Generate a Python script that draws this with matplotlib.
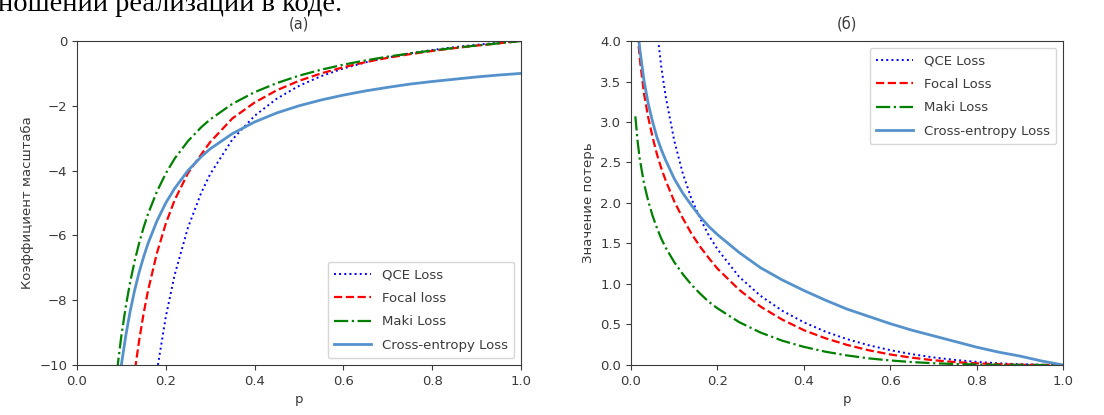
import matplotlib
matplotlib.use("Agg")
import matplotlib.pyplot as plt

# (a) scale coefficient vs p
p_a = [0.09, 0.10, 0.11, 0.12, 0.13, 0.14, 0.15, 0.16, 0.18, 0.20, 0.22, 0.25, 0.28, 0.30,
       0.35, 0.40, 0.45, 0.50, 0.55, 0.60, 0.65, 0.70, 0.75, 0.80, 0.85, 0.90, 0.95, 1.00]
qce_a = [-31.4, -26.6, -22.8, -19.9, -17.5, -15.5, -13.8, -12.4, -10.2, -8.52, -7.22, -5.76, -4.68, -4.11,
         -3.04, -2.31, -1.78, -1.385, -1.084, -0.848, -0.659, -0.507, -0.382, -0.278, -0.190, -0.117, -0.054, 0.0]
focal_a = [-16.5, -14.4, -12.7, -11.35, -10.21, -9.25, -8.42, -7.71, -6.55, -5.64, -4.91, -4.08, -3.50, -3.12,
           -2.39, -1.90, -1.52, -1.23, -1.00, -0.81, -0.652, -0.519, -0.406, -0.308, -0.220, -0.143, -0.072, 0.0]
maki_a = [-10.21, -9.10, -8.19, -7.43, -6.79, -6.24, -5.76, -5.34, -4.65, -4.09, -3.63, -3.09, -2.66, -2.42,
          -1.94, -1.58, -1.30, -1.07, -0.886, -0.731, -0.598, -0.483, -0.383, -0.294, -0.213, -0.140, -0.071, 0.0]
ce_a = [-11.11, -10.0, -9.09, -8.33, -7.69, -7.14, -6.67, -6.25, -5.56, -5.0, -4.55, -4.0, -3.57, -3.33,
        -2.86, -2.5, -2.22, -2.0, -1.82, -1.67, -1.54, -1.43, -1.33, -1.25, -1.18, -1.11, -1.05, -1.0]

# (б) loss value vs p
p_b = [0.01, 0.015, 0.02, 0.03, 0.04, 0.05, 0.06, 0.07, 0.08, 0.10, 0.12, 0.14, 0.16, 0.18, 0.20,
       0.25, 0.30, 0.35, 0.40, 0.45, 0.50, 0.55, 0.60, 0.65, 0.70, 0.75, 0.80, 0.85, 0.90, 0.95, 1.00]
qce_b = [13.9, 10.7, 8.9, 6.8, 5.55, 4.73, 4.14, 3.68, 3.32, 2.77, 2.36, 2.05, 1.81, 1.60, 1.43,
         1.09, 0.853, 0.670, 0.527, 0.412, 0.319, 0.244, 0.183, 0.134, 0.0935, 0.0623, 0.0385, 0.0211, 0.0093, 0.0023, 0.0]
focal_b = [4.54, 4.11, 3.79, 3.35, 3.05, 2.81, 2.60, 2.43, 2.28, 2.02, 1.81, 1.62, 1.46, 1.32, 1.19,
           0.93, 0.72, 0.56, 0.43, 0.33, 0.248, 0.182, 0.130, 0.090, 0.059, 0.036, 0.020, 0.0094, 0.0033, 0.0006, 0.0]
maki_b = [3.07, 2.77, 2.55, 2.24, 2.02, 1.84, 1.69, 1.56, 1.45, 1.27, 1.12, 0.99, 0.88, 0.78, 0.70,
          0.53, 0.40, 0.30, 0.224, 0.164, 0.118, 0.082, 0.056, 0.036, 0.022, 0.012, 0.006, 0.0025, 0.0007, 0.0, 0.0]
ce_b = [4.61, 4.20, 3.91, 3.51, 3.22, 3.00, 2.81, 2.66, 2.53, 2.30, 2.12, 1.97, 1.83, 1.71, 1.61,
        1.39, 1.20, 1.05, 0.92, 0.80, 0.69, 0.60, 0.51, 0.43, 0.36, 0.29, 0.22, 0.16, 0.11, 0.05, 0.0]

labels_a = ["QCE Loss", "Focal loss", "Maki Loss", "Cross-entropy Loss"]
labels_b = ["QCE Loss", "Focal Loss", "Maki Loss", "Cross-entropy Loss"]

gray = "#3a3a3a"
plt.rcParams["font.family"] = ["DejaVu Sans"]
plt.rcParams["font.size"] = 9.5
for k in ["text.color", "axes.labelcolor", "xtick.color", "ytick.color", "axes.edgecolor"]:
    plt.rcParams[k] = gray

fig = plt.figure(figsize=(11.04, 4.15), dpi=100)

fig.text(-0.002, 0.9745, "ношении реализации в коде.", family="Liberation Serif",
         fontsize=20.5, color="black", va="baseline", ha="left")

ax1 = fig.add_axes([0.0697, 0.1205, 0.4022, 0.7807])
ax2 = fig.add_axes([0.5716, 0.1205, 0.3913, 0.7807])

ce_color = "#5592cc"
leg_kw = dict(fontsize=9.5, handlelength=2.8, labelspacing=0.8, borderpad=0.5)

ax1.plot(p_a, qce_a, "b:", lw=1.4, label=labels_a[0])
ax1.plot(p_a, focal_a, "r--", lw=1.6, label=labels_a[1])
ax1.plot(p_a, maki_a, "g-.", lw=1.6, label=labels_a[2])
ax1.plot(p_a, ce_a, "-", color=ce_color, lw=2, label=labels_a[3])
ax1.set_xlim(0, 1)
ax1.set_ylim(-10, 0)
ax1.set_xlabel("p")
ax1.set_ylabel("Коэффициент масштаба")
ax1.set_title("(a)", fontsize=10.5, pad=9)
ax1.legend(loc="lower right", **leg_kw)

ax2.plot(p_b, qce_b, "b:", lw=1.4, label=labels_b[0])
ax2.plot(p_b, focal_b, "r--", lw=1.6, label=labels_b[1])
ax2.plot(p_b, maki_b, "g-.", lw=1.6, label=labels_b[2])
ax2.plot(p_b, ce_b, "-", color=ce_color, lw=2, label=labels_b[3])
ax2.set_xlim(0, 1)
ax2.set_ylim(0, 4)
ax2.set_xlabel("p")
ax2.set_ylabel("Значение потерь")
ax2.set_title("(б)", fontsize=10.5, pad=9)
ax2.legend(loc="upper right", **leg_kw)

fig.savefig("out.png", dpi=100)
